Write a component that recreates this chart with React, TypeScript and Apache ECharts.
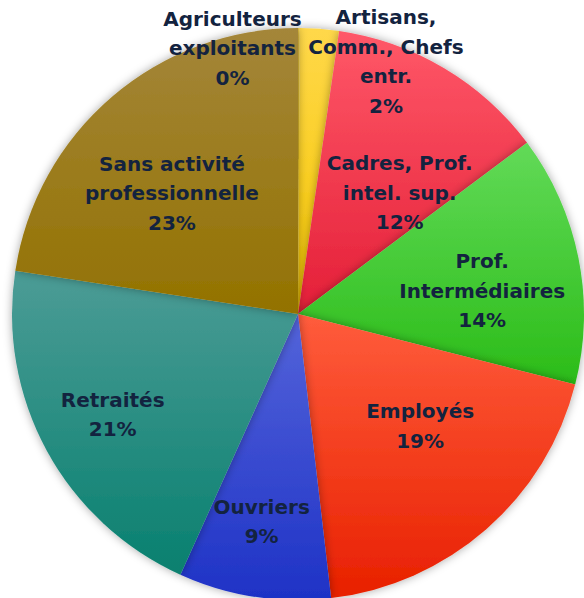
import React, { useEffect, useRef } from "react";
import * as echarts from "echarts";

const categories = [
  "Agriculteurs\nexploitants",
  "Artisans,\nComm., Chefs\nentr.",
  "Cadres, Prof.\nintel. sup.",
  "Prof.\nIntermédiaires",
  "Employés",
  "Ouvriers",
  "Retraités",
  "Sans activité\nprofessionnelle",
];
const values = [0.1, 2.2, 12.5, 14.2, 19.2, 8.6, 20.7, 22.6];
const colorsTop = ["#FFD84A", "#FFD84A", "#FF5868", "#62DA58", "#FF5C3C", "#5464DA", "#4C9C96", "#A4863A"];
const colorsBottom = ["#F5C600", "#F5C600", "#E41F38", "#2BBC18", "#E82000", "#1E32C6", "#08806F", "#937200"];
// label offsets from default inside position
const labelDx = [-66, 77, 27, 41, 26, -14, -57, -31];
const labelDy = [-120, -107, 4, 5, 2, 63, 31, -10];

export default function App() {
  const ref = useRef<HTMLDivElement>(null);
  useEffect(() => {
    if (!ref.current) return;
    const chart = echarts.init(ref.current, null, { renderer: "svg" });
    const total = values.reduce((a, b) => a + b, 0);
    chart.setOption({
      animation: false,
      series: [
        {
          type: "pie",
          center: [298, 314],
          radius: 286,
          startAngle: 90,
          clockwise: true,
          avoidLabelOverlap: false,
          itemStyle: {
            shadowBlur: 10,
            shadowColor: "rgba(0,0,0,0.35)",
          },
          label: {
            show: true,
            position: "inside",
            color: "#13233f",
            fontFamily: "DejaVu Sans",
            fontWeight: "bold",
            fontSize: 20,
            lineHeight: 29.5,
            align: "center",
            formatter: (p: any) => `${p.name}\n${Math.round((p.value / total) * 100)}%`,
          },
          labelLayout: (p: any) => ({ dx: labelDx[p.dataIndex], dy: labelDy[p.dataIndex] }),
          data: categories.map((c, i) => ({
            name: c,
            value: values[i],
            itemStyle: {
              color: new echarts.graphic.LinearGradient(0, 0, 0, 1, [
                { offset: 0, color: colorsTop[i] },
                { offset: 1, color: colorsBottom[i] },
              ]),
            },
          })),
        },
      ],
    });
    return () => chart.dispose();
  }, []);
  return (
    <div
      ref={ref}
      style={{ position: "fixed", left: 0, top: 0, width: 584, height: 598, background: "#fff" }}
    />
  );
}
